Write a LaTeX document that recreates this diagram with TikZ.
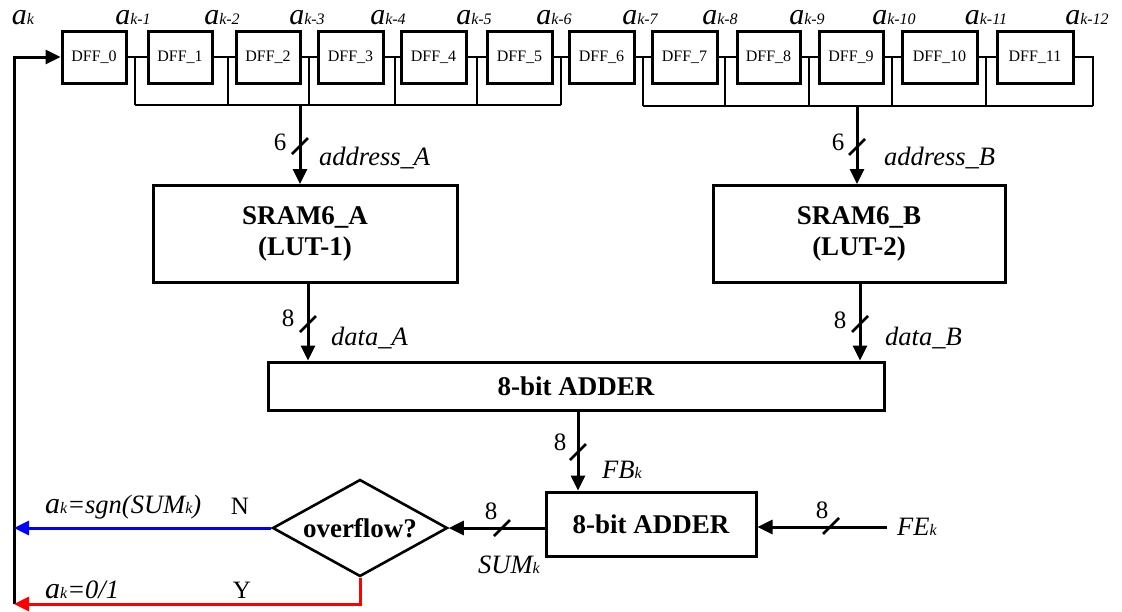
\documentclass[tikz,border=0pt]{standalone}
\usepackage{fontspec}
\setmainfont{Liberation Serif}
\usetikzlibrary{arrows.meta,shapes.geometric}
\begin{document}
\begin{tikzpicture}[x=1pt,y=-1pt,
  thin/.style={line width=1.1pt},
  tip/.style={-{Triangle[length=15pt,width=14pt]}},
  wire/.style={line width=3pt},
  arr/.style={line width=3pt,tip},
  dff/.style={draw,line width=3pt,minimum height=52pt,inner sep=0pt,font=\fontsize{16}{16}\selectfont},
  block/.style={draw,line width=3pt,inner sep=0pt,align=center,font=\fontsize{27}{31}\selectfont\bfseries},
  albl/.style={anchor=base,inner sep=0pt},
  ilbl/.style={inner sep=0pt,font=\fontsize{26.5}{26.5}\selectfont\itshape},
  nlbl/.style={inner sep=0pt,font=\fontsize{25}{25}\selectfont},
  slash/.style={line width=2.6pt}
]
\useasboundingbox (0,0) rectangle (1122,611);
% DFF chain
\node[dff,minimum width=64pt] (D0) at (94,57) {DFF\_0};
\node[dff,minimum width=64pt] (D1) at (180,57) {DFF\_1};
\node[dff,minimum width=64pt] (D2) at (268,57) {DFF\_2};
\node[dff,minimum width=65pt] (D3) at (350.5,57) {DFF\_3};
\node[dff,minimum width=65pt] (D4) at (433.5,57) {DFF\_4};
\node[dff,minimum width=65pt] (D5) at (519.5,57) {DFF\_5};
\node[dff,minimum width=65pt] (D6) at (601.5,57) {DFF\_6};
\node[dff,minimum width=65pt] (D7) at (684.5,57) {DFF\_7};
\node[dff,minimum width=63pt] (D8) at (768.5,57) {DFF\_8};
\node[dff,minimum width=64pt] (D9) at (851,57) {DFF\_9};
\node[dff,minimum width=75pt] (D10) at (939.5,57) {DFF\_10};
\node[dff,minimum width=76pt] (D11) at (1035,57) {DFF\_11};
\foreach \a/\b in {D0/D1,D1/D2,D2/D3,D3/D4,D4/D5,D5/D6,D6/D7,D7/D8,D8/D9,D9/D10,D10/D11}
  \draw[thin] (\a.east) -- (\b.west);
% taps
\coordinate (tA1) at (135,105);
\coordinate (tA2) at (228,105);
\coordinate (tA3) at (309,105);
\coordinate (tA4) at (395,105);
\coordinate (tA5) at (477,105);
\coordinate (tA6) at (561,105);
\coordinate (tB1) at (643,106);
\coordinate (tB2) at (725,106);
\coordinate (tB3) at (809,106);
\coordinate (tB4) at (892,106);
\coordinate (tB5) at (986,106);
\coordinate (tB6) at (1093,106);
\foreach \t in {tA1,tA2,tA3,tA4,tA5,tA6,tB1,tB2,tB3,tB4,tB5}
  \draw[thin] (\t |- D0.east) -- (\t);
\draw[thin] (D11.east) -| (tB6);
\draw[thin] (tA1) -- (tA6);
\draw[thin] (tB1) -- (tB6);
% a labels
\newcommand{\ak}[1]{{\fontsize{30}{30}\selectfont\itshape a}{\fontsize{16}{16}\selectfont\itshape #1}}
\node[albl] (L0) at (23,24) {\ak{k}};
\node[albl] (L1) at (133,24) {\ak{k-1}};
\node[albl] (L2) at (222,24) {\ak{k-2}};
\node[albl] (L3) at (307,24) {\ak{k-3}};
\node[albl] (L4) at (388,24) {\ak{k-4}};
\node[albl] (L5) at (474,24) {\ak{k-5}};
\node[albl] (L6) at (554,24) {\ak{k-6}};
\node[albl] (L7) at (640,24) {\ak{k-7}};
\node[albl] (L8) at (720,24) {\ak{k-8}};
\node[albl] (L9) at (807,24) {\ak{k-9}};
\node[albl] (L10) at (894,24) {\ak{k-10}};
\node[albl] (L11) at (986,24) {\ak{k-11}};
\node[albl] (L12) at (1087,24) {\ak{k-12}};
% SRAMs
\node[block,minimum width=304pt,minimum height=97pt] (SA) at (305,234) {SRAM6\_A\\(LUT-1)};
\node[block,minimum width=292pt,minimum height=97pt] (SB) at (859,234) {SRAM6\_B\\(LUT-2)};
\coordinate (aA) at (300,105);
\coordinate (aB) at (857,106);
\draw[arr] (aA) -- (aA |- SA.north);
\draw[arr] (aB) -- (aB |- SB.north);
\draw[slash] (292,154) -- (308,138);
\draw[slash] (849,155) -- (865,139);
\node[nlbl] (n6A) at (280,142) {6};
\node[nlbl] (n6B) at (838,142) {6};
\node[ilbl,anchor=west] (adA) at (319,158) {address\_A};
\node[ilbl,anchor=west] (adB) at (884,158) {address\_B};
% first adder
\node[block,minimum width=616pt,minimum height=48pt] (AD1) at (576,386) {8-bit ADDER};
\coordinate (dA) at (308,0);
\coordinate (dB) at (860,0);
\draw[arr] (dA |- SA.south) -- (dA |- AD1.north);
\draw[arr] (dB |- SB.south) -- (dB |- AD1.north);
\draw[slash] (300,332) -- (316,316);
\draw[slash] (852,332) -- (868,316);
\node[nlbl] (n8A) at (288,318) {8};
\node[nlbl] (n8B) at (840,320) {8};
\node[ilbl,anchor=west] (daA) at (331,338) {data\_A};
\node[ilbl,anchor=west] (daB) at (885,338) {data\_B};
% second adder
\node[block,minimum width=210pt,minimum height=64pt] (AD2) at (651,524) {8-bit ADDER};
\coordinate (fb) at (578,0);
\draw[arr] (fb |- AD1.south) -- (fb |- AD2.north);
\draw[slash] (570,460) -- (586,444);
\node[nlbl] (n8F) at (560,442) {8};
\node[ilbl,anchor=west] (FB) at (602,470) {FB{\fontsize{16}{16}\selectfont k}};
\node[ilbl,anchor=west] (FE) at (897,527) {FE{\fontsize{16}{16}\selectfont k}};
\draw[arr] ([xshift=-10pt]FE.west) -- (AD2.east |- FE.west);
\draw[slash] (823,534) -- (839,518);
\node[nlbl] (n8E) at (822,510) {8};
% overflow
\node[draw,diamond,aspect=1.8,line width=2.6pt,inner sep=0pt,minimum width=175pt,minimum height=97pt,font=\fontsize{27}{27}\selectfont\bfseries] (OV) at (360,528) {overflow?};
\draw[arr] (AD2.west |- OV.east) -- (OV.east);
\draw[slash] (494,536) -- (510,520);
\node[nlbl] (n8S) at (491,511) {8};
\node[ilbl,anchor=west] (SUM) at (478,565) {SUM{\fontsize{16}{16}\selectfont k}};
% feedback
\coordinate (fbk) at (14,604);
\draw[wire,tip] (fbk) |- (D0.west);
\draw[line width=3pt,blue,tip] (OV.west) -- (fbk |- OV.west);
\draw[line width=3pt,red,tip] (OV.south) |- (fbk);
\node[ilbl,anchor=west] (sg) at (45,507) {\ak{k}=sgn(SUM{\fontsize{16}{16}\selectfont k})};
\node[ilbl,anchor=west] (zo) at (45,590) {\ak{k}=0/1};
\node[nlbl] (N) at (240,506) {N};
\node[nlbl] (Y) at (242,590) {Y};
\end{tikzpicture}
\end{document}
